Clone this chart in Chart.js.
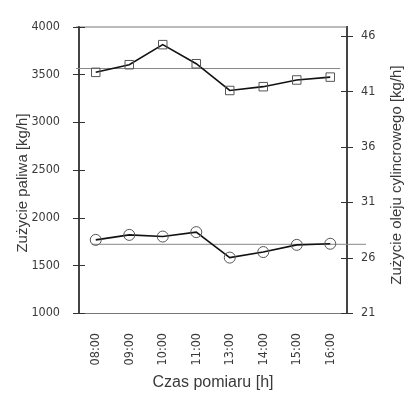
<!DOCTYPE html>
<html lang="pl">
  <head>
    <meta charset="UTF-8">
    <title>Zużycie paliwa i oleju</title>
    <style>
      html, body { margin: 0; padding: 0; background: #fff; }
      canvas { display: block; }
    </style>
  </head>
  <body>
    <canvas id="myChart" width="408" height="398"></canvas>

    <script src="https://cdn.jsdelivr.net/npm/chart.js"></script>
    <script>
      // data
      const hours = ["08:00", "09:00", "10:00", "11:00", "13:00", "14:00", "15:00", "16:00"];
      const fuelUse = [3520, 3600, 3810, 3610, 3330, 3370, 3440, 3470];   // kg/h, left axis
      const oilUse = [27.6, 28.05, 27.9, 28.3, 26.0, 26.5, 27.15, 27.25]; // kg/h, right axis
      const fuelRef = 3560;
      const oilRef = 27.2;
      const fuelTicks = [1000, 1500, 2000, 2500, 3000, 3500, 4000];
      const oilTicks = [21, 26, 31, 36, 41, 46];

      const TXT = "#3a3a3a";
      const NARROW = "'Liberation Sans Narrow', 'Arial Narrow', 'DejaVu Sans Condensed', sans-serif";
      const SANS = "'Liberation Sans', Arial, sans-serif";

      const decorPlugin = {
        id: "decor",
        beforeDatasetsDraw(chart) {
          const { ctx, chartArea, scales } = chart;
          const x = scales.x, y = scales.y, y1 = scales.y1;
          ctx.save();
          // top frame line
          ctx.strokeStyle = "#777";
          ctx.lineWidth = 1;
          ctx.beginPath();
          ctx.moveTo(chartArea.left - 3, chartArea.top + 0.5);
          ctx.lineTo(chartArea.right, chartArea.top + 0.5);
          ctx.stroke();
          // reference lines
          ctx.strokeStyle = "#888";
          let py = y.getPixelForValue(fuelRef);
          ctx.beginPath();
          ctx.moveTo(chartArea.left - 3, py);
          ctx.lineTo(x.getPixelForValue(hours.length - 1) + 10, py);
          ctx.stroke();
          py = y1.getPixelForValue(oilRef);
          ctx.beginPath();
          ctx.moveTo(x.getPixelForValue(0) - 4, py);
          ctx.lineTo(chartArea.right + 19, py);
          ctx.stroke();
          ctx.restore();
        },
        afterDraw(chart) {
          const { ctx, chartArea, scales } = chart;
          ctx.save();
          // cross ticks on both value axes
          ctx.strokeStyle = "#333";
          ctx.lineWidth = 1;
          [[scales.y, chartArea.left], [scales.y1, chartArea.right]].forEach(([s, ax]) => {
            s.ticks.forEach(t => {
              const py = Math.round(s.getPixelForValue(t.value)) + 0.5;
              ctx.beginPath();
              ctx.moveTo(ax - 6, py);
              ctx.lineTo(ax + 6, py);
              ctx.stroke();
            });
          });
          // axis titles, both reading bottom to top
          ctx.fillStyle = TXT;
          ctx.textAlign = "center";
          ctx.textBaseline = "middle";
          ctx.font = "15px " + SANS;
          ctx.translate(23, 183);
          ctx.rotate(-Math.PI / 2);
          ctx.fillText("Zużycie paliwa [kg/h]", 0, 0);
          ctx.setTransform(1, 0, 0, 1, 0, 0);
          ctx.font = "15px " + SANS;
          ctx.translate(397, 175);
          ctx.rotate(-Math.PI / 2);
          ctx.fillText("Zużycie oleju cylincrowego [kg/h]", 0, 0);
          ctx.restore();
        }
      };

      const plain = v => String(v);

      const ctx = document.getElementById("myChart").getContext("2d");
      new Chart(ctx, {
        type: "line",
        data: {
          labels: hours,
          datasets: [
            {
              label: "Zużycie paliwa",
              data: fuelUse,
              yAxisID: "y",
              borderColor: "#111",
              borderWidth: 1.6,
              pointStyle: "rect",
              pointRadius: 6,
              pointBorderColor: "#555",
              pointBorderWidth: 1,
              pointBackgroundColor: "rgba(0,0,0,0)",
              tension: 0
            },
            {
              label: "Zużycie oleju",
              data: oilUse,
              yAxisID: "y1",
              borderColor: "#111",
              borderWidth: 1.6,
              pointStyle: "circle",
              pointRadius: 5.5,
              pointBorderColor: "#555",
              pointBorderWidth: 1,
              pointBackgroundColor: "rgba(0,0,0,0)",
              tension: 0
            }
          ]
        },
        options: {
          responsive: false,
          animation: false,
          layout: { padding: { top: 13, left: 0, right: 0, bottom: 0 } },
          plugins: {
            legend: { display: false },
            tooltip: { enabled: false }
          },
          scales: {
            x: {
              offset: true,
              grid: { display: false, drawTicks: false },
              border: { display: true, color: "#777", width: 1 },
              ticks: {
                minRotation: 90,
                maxRotation: 90,
                padding: 20,
                color: TXT,
                font: { family: NARROW, size: 12.5 }
              },
              title: {
                display: true,
                text: "Czas pomiaru [h]",
                color: TXT,
                font: { family: SANS, size: 16 },
                padding: { top: 0, bottom: 6 }
              },
              afterFit(s) { s.height = 85; }
            },
            y: {
              position: "left",
              min: 1000,
              max: 4000,
              grid: { display: false, drawTicks: false },
              border: { display: true, color: "#444", width: 2 },
              afterBuildTicks(s) { s.ticks = fuelTicks.map(v => ({ value: v })); },
              ticks: {
                padding: 19,
                color: TXT,
                font: { family: NARROW, size: 12.5 },
                callback: plain
              },
              afterFit(s) { s.width = 79; }
            },
            y1: {
              position: "right",
              min: 21,
              max: 46.86,
              grid: { display: false, drawTicks: false },
              border: { display: true, color: "#444", width: 2 },
              afterBuildTicks(s) { s.ticks = oilTicks.map(v => ({ value: v })); },
              ticks: {
                padding: 14,
                color: TXT,
                font: { family: NARROW, size: 12.5 },
                callback: plain
              },
              afterFit(s) { s.width = 61; }
            }
          }
        },
        plugins: [decorPlugin]
      });
    </script>
  </body>
</html>
